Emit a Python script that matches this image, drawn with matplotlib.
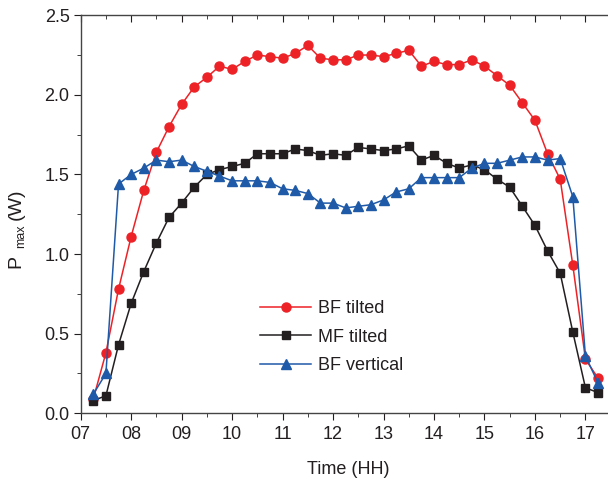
import matplotlib
matplotlib.use("Agg")
import matplotlib.pyplot as plt
from matplotlib.ticker import MultipleLocator
import numpy as np

# times every quarter hour, 07:15 .. 17:15
time = np.arange(7.25, 17.26, 0.25)

bf_tilted = [0.09, 0.38, 0.78, 1.11, 1.40, 1.64, 1.80, 1.94, 2.05, 2.11, 2.18,
             2.16, 2.21, 2.25, 2.24, 2.23, 2.26, 2.31, 2.23, 2.22, 2.22, 2.25,
             2.25, 2.24, 2.26, 2.28, 2.18, 2.21, 2.19, 2.19, 2.22, 2.18, 2.12,
             2.06, 1.95, 1.84, 1.63, 1.47, 0.93, 0.34, 0.22]
mf_tilted = [0.08, 0.11, 0.43, 0.69, 0.89, 1.07, 1.23, 1.32, 1.42, 1.50, 1.53,
             1.55, 1.57, 1.63, 1.63, 1.63, 1.66, 1.65, 1.62, 1.63, 1.62, 1.67,
             1.66, 1.65, 1.66, 1.68, 1.59, 1.62, 1.57, 1.54, 1.56, 1.53, 1.47,
             1.42, 1.30, 1.18, 1.02, 0.88, 0.51, 0.16, 0.13]
bf_vertical = [0.12, 0.25, 1.44, 1.50, 1.54, 1.59, 1.58, 1.59, 1.55, 1.52, 1.49,
               1.46, 1.46, 1.46, 1.45, 1.41, 1.40, 1.38, 1.32, 1.32, 1.29, 1.30,
               1.31, 1.34, 1.39, 1.41, 1.48, 1.48, 1.48, 1.48, 1.54, 1.57, 1.57,
               1.59, 1.61, 1.61, 1.59, 1.60, 1.36, 0.36, 0.19]

xticks = [7, 8, 9, 10, 11, 12, 13, 14, 15, 16, 17]
xticklabels = ["07", "08", "09", "10", "11", "12", "13", "14", "15", "16", "17"]

txt = "#231f20"
plt.rcParams["font.family"] = ["Liberation Sans", "DejaVu Sans"]
plt.rcParams["font.size"] = 13
plt.rcParams["text.color"] = txt
plt.rcParams["axes.labelcolor"] = txt
plt.rcParams["xtick.color"] = txt
plt.rcParams["ytick.color"] = txt

W, H = 608, 479
fig = plt.figure(figsize=(W / 100, H / 100), dpi=100)
ax = fig.add_axes([0.1327, 0.1372, 0.88, 0.831])

ax.plot(time, bf_tilted, color="#ed2227", marker="o", markersize=6.5, lw=1.1, label="BF tilted")
ax.plot(time, mf_tilted, color="#231f20", marker="s", markersize=5.2, lw=1.1, label="MF tilted")
ax.plot(time, bf_vertical, color="#1f5aa8", marker="^", markersize=6.5, lw=1.1, label="BF vertical")

ax.set_xlim(7, 17.6)
ax.set_ylim(0, 2.5)
ax.set_xticks(xticks)
ax.set_xticklabels(xticklabels)
ax.xaxis.set_minor_locator(MultipleLocator(0.5))
ax.yaxis.set_major_locator(MultipleLocator(0.5))
ax.yaxis.set_minor_locator(MultipleLocator(0.25))
ax.yaxis.set_major_formatter(matplotlib.ticker.FormatStrFormatter("%.1f"))

ax.spines["right"].set_visible(False)
for s in ["left", "bottom", "top"]:
    ax.spines[s].set_color("#444444")
    ax.spines[s].set_linewidth(1.0)
ax.tick_params(axis="both", which="both", direction="out")
ax.tick_params(axis="x", which="major", length=5, pad=4)
ax.tick_params(axis="x", which="minor", length=3)
ax.tick_params(axis="y", which="major", length=5, pad=3)
ax.tick_params(axis="y", which="minor", length=3)
ax.tick_params(axis="x", which="both", top=True, labeltop=False)
for t in ax.xaxis.get_major_ticks() + ax.xaxis.get_minor_ticks():
    t.tick2line.set_marker(3)  # inward on top

ax.set_xlabel("Time (HH)", labelpad=13)

# y label built from pieces so the subscript sits like in the original
fig.text(16 / W, 1 - 268 / H, "P", rotation=90, ha="center", va="bottom", fontsize=14)
fig.text(21 / W, 1 - 248 / H, "max", rotation=90, ha="center", va="bottom", fontsize=9)
fig.text(16 / W, 1 - 220 / H, "(W)", rotation=90, ha="center", va="bottom", fontsize=14)

ax.legend(loc="upper left", bbox_to_anchor=(253 / W, 1 - 293 / H), bbox_transform=fig.transFigure,
          frameon=False, handlelength=2.8, handletextpad=0.4, labelspacing=0.64, borderaxespad=0)

fig.savefig("out.png", dpi=100)
